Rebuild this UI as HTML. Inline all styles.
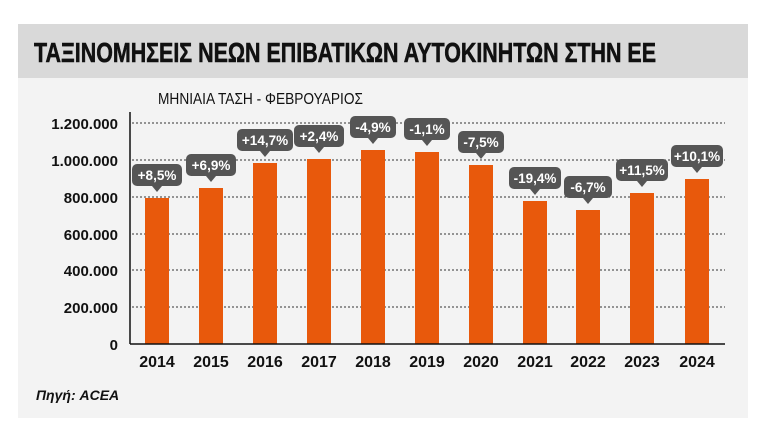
<!DOCTYPE html>
<html><head><meta charset="utf-8"><style>
body{margin:0;background:#fff;width:768px;height:438px;overflow:hidden;font-family:"Liberation Sans","DejaVu Sans",sans-serif}
</style></head><body>
<svg width="768" height="438" xmlns="http://www.w3.org/2000/svg" font-family="Liberation Sans, DejaVu Sans, sans-serif">
<rect x="18" y="24" width="730" height="394" fill="#f3f3f3"/>
<rect x="18" y="24" width="730" height="54" fill="#d9d9d9"/>
<text x="34" y="62" font-size="28" font-weight="bold" fill="#111" textLength="622" lengthAdjust="spacingAndGlyphs" stroke="#111" stroke-width="0.6">ΤΑΞΙΝΟΜΗΣΕΙΣ ΝΕΩΝ ΕΠΙΒΑΤΙΚΩΝ ΑΥΤΟΚΙΝΗΤΩΝ ΣΤΗΝ ΕΕ</text>
<text x="158" y="104" font-size="16" fill="#111" textLength="205" lengthAdjust="spacingAndGlyphs">ΜΗΝΙΑΙΑ ΤΑΣΗ - ΦΕΒΡΟΥΑΡΙΟΣ</text>
<g stroke="#333" stroke-width="1" stroke-dasharray="2,2">
<line x1="132" x2="725" y1="123" y2="123"/><line x1="132" x2="725" y1="160" y2="160"/><line x1="132" x2="725" y1="197" y2="197"/><line x1="132" x2="725" y1="234" y2="234"/><line x1="132" x2="725" y1="270" y2="270"/><line x1="132" x2="725" y1="307" y2="307"/>
</g>
<g font-size="15" font-weight="bold" fill="#111" text-anchor="end">
<text x="118" y="129">1.200.000</text><text x="118" y="166">1.000.000</text><text x="118" y="203">800.000</text><text x="118" y="240">600.000</text><text x="118" y="276">400.000</text><text x="118" y="313">200.000</text><text x="118" y="350">0</text>
</g>
<g fill="#e8590c">
<rect x="145" y="198" width="24" height="146"/><rect x="199" y="188" width="24" height="156"/><rect x="253" y="163" width="24" height="181"/><rect x="307" y="159" width="24" height="185"/><rect x="361" y="150" width="24" height="194"/><rect x="415" y="152" width="24" height="192"/><rect x="469" y="165" width="24" height="179"/><rect x="523" y="201" width="24" height="143"/><rect x="576" y="210" width="24" height="134"/><rect x="630" y="193" width="24" height="151"/><rect x="685" y="179" width="24" height="165"/>
</g>
<line x1="130" y1="112" x2="130" y2="344" stroke="#111" stroke-width="1.5"/>
<line x1="130" y1="344" x2="725" y2="344" stroke="#111" stroke-width="1.5"/>
<g font-size="16" font-weight="bold" fill="#111" text-anchor="middle">
<text x="157" y="367">2014</text><text x="211" y="367">2015</text><text x="265" y="367">2016</text><text x="319" y="367">2017</text><text x="373" y="367">2018</text><text x="427" y="367">2019</text><text x="481" y="367">2020</text><text x="535" y="367">2021</text><text x="588" y="367">2022</text><text x="642" y="367">2023</text><text x="697" y="367">2024</text>
</g>
<g font-size="13.5" font-weight="bold" fill="#fff" text-anchor="middle">
<g transform="translate(157,190)"><rect x="-25" y="-26" width="50" height="22" rx="5" fill="#555"/><path d="M-5,-4 L5,-4 L0,2Z" fill="#555"/><text y="-10">+8,5%</text></g>
<g transform="translate(211,180)"><rect x="-25" y="-26" width="50" height="22" rx="5" fill="#555"/><path d="M-5,-4 L5,-4 L0,2Z" fill="#555"/><text y="-10">+6,9%</text></g>
<g transform="translate(265,155)"><rect x="-28" y="-26" width="56" height="22" rx="5" fill="#555"/><path d="M-5,-4 L5,-4 L0,2Z" fill="#555"/><text y="-10">+14,7%</text></g>
<g transform="translate(319,151)"><rect x="-25" y="-26" width="50" height="22" rx="5" fill="#555"/><path d="M-5,-4 L5,-4 L0,2Z" fill="#555"/><text y="-10">+2,4%</text></g>
<g transform="translate(373,142)"><rect x="-23" y="-26" width="46" height="22" rx="5" fill="#555"/><path d="M-5,-4 L5,-4 L0,2Z" fill="#555"/><text y="-10">-4,9%</text></g>
<g transform="translate(427,144)"><rect x="-23" y="-26" width="46" height="22" rx="5" fill="#555"/><path d="M-5,-4 L5,-4 L0,2Z" fill="#555"/><text y="-10">-1,1%</text></g>
<g transform="translate(481,157)"><rect x="-23" y="-26" width="46" height="22" rx="5" fill="#555"/><path d="M-5,-4 L5,-4 L0,2Z" fill="#555"/><text y="-10">-7,5%</text></g>
<g transform="translate(535,193)"><rect x="-26" y="-26" width="52" height="22" rx="5" fill="#555"/><path d="M-5,-4 L5,-4 L0,2Z" fill="#555"/><text y="-10">-19,4%</text></g>
<g transform="translate(588,202)"><rect x="-24" y="-26" width="48" height="22" rx="5" fill="#555"/><path d="M-5,-4 L5,-4 L0,2Z" fill="#555"/><text y="-10">-6,7%</text></g>
<g transform="translate(642,185)"><rect x="-26" y="-26" width="52" height="22" rx="5" fill="#555"/><path d="M-5,-4 L5,-4 L0,2Z" fill="#555"/><text y="-10">+11,5%</text></g>
<g transform="translate(697,171)"><rect x="-26" y="-26" width="52" height="22" rx="5" fill="#555"/><path d="M-5,-4 L5,-4 L0,2Z" fill="#555"/><text y="-10">+10,1%</text></g>
</g>
<text x="36" y="400" font-size="14" font-weight="bold" font-style="italic" fill="#111">Πηγή: ACEA</text>
</svg>
</body></html>
